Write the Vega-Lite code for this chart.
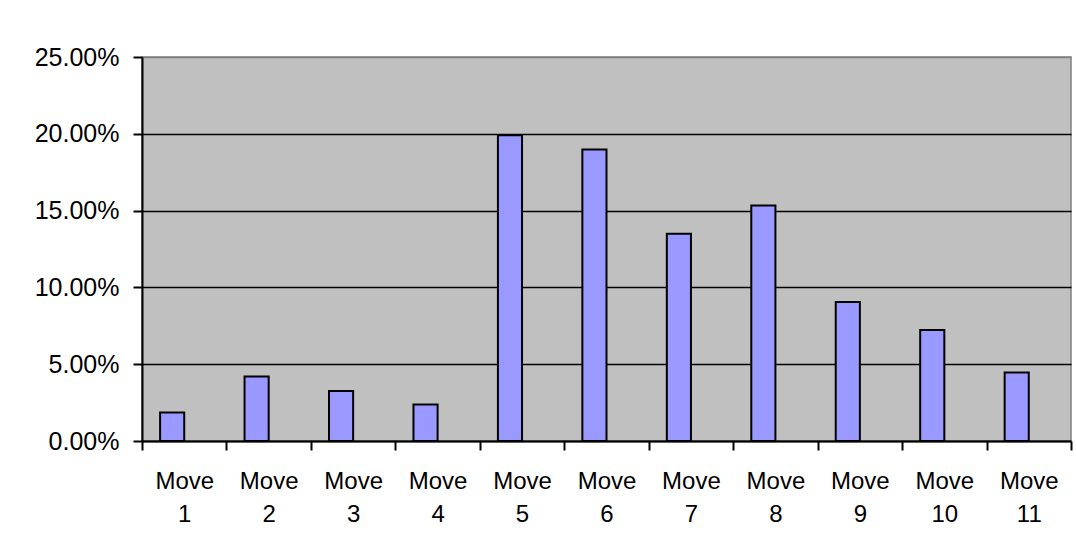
{
  "$schema": "https://vega.github.io/schema/vega-lite/v6.json",
  "width": 929,
  "height": 384,
  "autosize": {"type": "none"},
  "padding": {"left": 142, "top": 57, "right": 5, "bottom": 108},
  "background": "white",
  "data": {
    "values": [
      {"move": "Move 1", "series": "A", "share": 0.0185},
      {"move": "Move 2", "series": "A", "share": 0.0420},
      {"move": "Move 3", "series": "A", "share": 0.0326},
      {"move": "Move 4", "series": "A", "share": 0.0237},
      {"move": "Move 5", "series": "A", "share": 0.1990},
      {"move": "Move 6", "series": "A", "share": 0.1897},
      {"move": "Move 7", "series": "A", "share": 0.1349},
      {"move": "Move 8", "series": "A", "share": 0.1534},
      {"move": "Move 9", "series": "A", "share": 0.0905},
      {"move": "Move 10", "series": "A", "share": 0.0722},
      {"move": "Move 11", "series": "A", "share": 0.0446}
    ]
  },
  "mark": {"type": "bar", "fill": "#9999FF", "stroke": "black", "strokeWidth": 2},
  "encoding": {
    "x": {
      "field": "move",
      "type": "nominal",
      "sort": null,
      "scale": {"paddingInner": 0, "paddingOuter": 0},
      "axis": {
        "title": null,
        "labelAngle": 0,
        "labelExpr": "split(datum.label, ' ')",
        "labelLineHeight": 33,
        "labelPadding": 19,
        "labelOverlap": false,
        "labelBound": false,
        "labelFlush": false,
        "tickBand": "extent",
        "tickSize": 9,
        "tickColor": "black",
        "tickWidth": 2,
        "domainColor": "black",
        "domainWidth": 2,
        "grid": false
      }
    },
    "xOffset": {
      "field": "series",
      "type": "nominal",
      "scale": {"domain": ["A", "B"], "paddingInner": 0, "paddingOuter": 0.75}
    },
    "y": {
      "field": "share",
      "type": "quantitative",
      "scale": {"domain": [0, 0.25], "nice": false},
      "axis": {
        "title": null,
        "values": [0, 0.05, 0.1, 0.15, 0.2, 0.25],
        "format": ".2%",
        "labelPadding": 14,
        "labelFontSize": 25,
        "tickSize": 9,
        "tickColor": "black",
        "tickWidth": 2,
        "domainColor": "black",
        "domainWidth": 2,
        "grid": true,
        "gridColor": {"condition": {"test": "datum.value >= 0.25", "value": "#808080"}, "value": "black"},
        "gridWidth": 1.6,
        "gridOpacity": 1
      }
    }
  },
  "config": {
    "view": {"fill": "#C0C0C0", "stroke": "#808080", "strokeWidth": 1.5},
    "axis": {
      "labelFont": "Liberation Sans",
      "labelFontSize": 24,
      "labelColor": "black"
    }
  }
}
